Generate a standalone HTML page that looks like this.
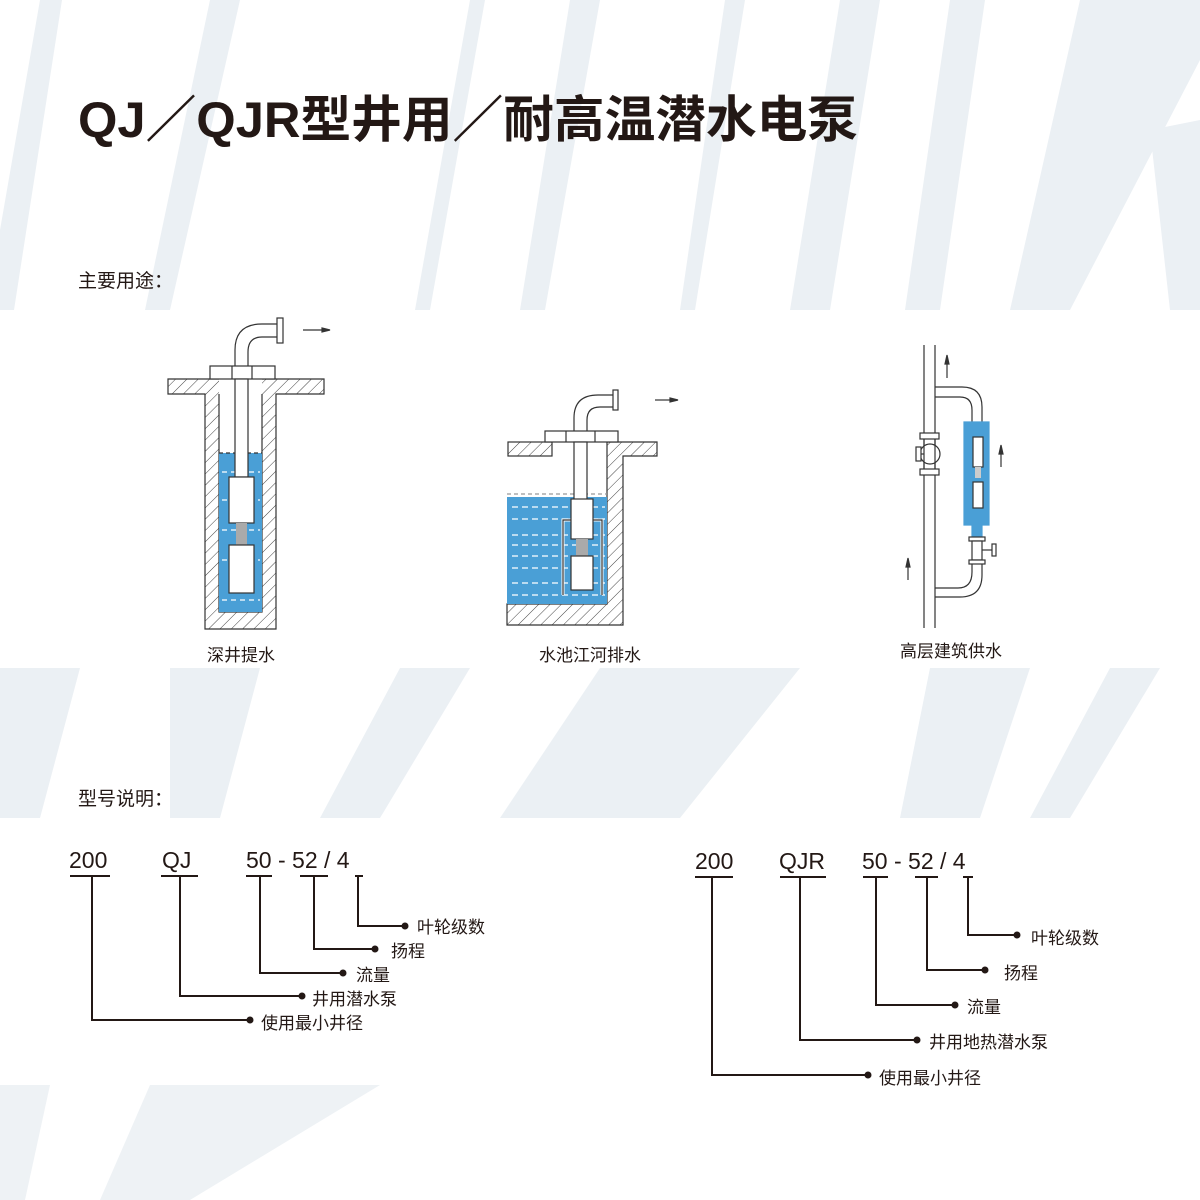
<!DOCTYPE html>
<html><head><meta charset="utf-8"><style>
html,body{margin:0;padding:0;background:#fff}
svg{display:block}
text{font-family:"Liberation Sans","Noto Sans CJK SC",sans-serif;fill:#231815}
</style></head><body>
<svg width="1200" height="1200" viewBox="0 0 1200 1200" xmlns="http://www.w3.org/2000/svg">
<defs>
<pattern id="h" width="8" height="8" patternUnits="userSpaceOnUse" patternTransform="rotate(45)">
<line x1="0" y1="0" x2="0" y2="8" stroke="#444" stroke-width="1"/>
</pattern>
<clipPath id="top"><rect x="0" y="0" width="1200" height="310"/></clipPath>
<clipPath id="mid"><rect x="0" y="668" width="1200" height="150"/></clipPath>
<clipPath id="bot"><rect x="0" y="1085" width="380" height="115"/></clipPath>
</defs>
<!-- background swooshes -->
<g fill="#ebf0f4" clip-path="url(#top)">
<polygon points="40,0 62,0 14,310 0,310 0,230"/>
<polygon points="210,0 240,0 170,310 145,310"/>
<polygon points="470,0 485,0 430,310 415,310"/>
<polygon points="570,0 600,0 545,310 520,310"/>
<polygon points="725,0 745,0 695,310 680,310"/>
<polygon points="840,0 880,0 830,310 790,310"/>
<polygon points="950,0 985,0 940,310 905,310"/>
<polygon points="1080,0 1200,0 1200,60 1070,310 1010,310"/>
<polygon points="1150,130 1200,120 1200,310 1170,310"/>
</g>
<g fill="#ebf0f4" clip-path="url(#mid)">
<polygon points="0,668 80,668 40,818 0,818"/>
<polygon points="170,668 260,668 220,818 170,818"/>
<polygon points="400,668 470,668 380,818 320,818"/>
<polygon points="600,668 800,668 680,818 500,818"/>
<polygon points="930,668 1030,668 980,818 900,818"/>
<polygon points="1110,668 1160,668 1070,818 1030,818"/>
</g>
<g fill="#eef2f5" clip-path="url(#bot)">
<polygon points="0,1085 50,1085 25,1200 0,1200"/>
<polygon points="150,1085 380,1085 190,1200 100,1200"/>
</g>

<!-- title -->
<text x="78" y="137" font-size="50" font-weight="bold" textLength="780" lengthAdjust="spacingAndGlyphs" style="font-family:'Liberation Sans','Noto Sans CJK SC',sans-serif">QJ／QJR型井用／耐高温潜水电泵</text>
<text x="78" y="287" font-size="19" style="font-family:'Noto Sans CJK SC',sans-serif">主要用途：</text>
<text x="78" y="805" font-size="19" style="font-family:'Noto Sans CJK SC',sans-serif">型号说明：</text>

<g stroke="#333" stroke-width="1.2" fill="none">
<!-- Diagram 1 : well -->
<path d="M168,379 H324 V394 H276 V629 H205 V394 H168 Z" fill="url(#h)"/>
<rect x="219" y="379" width="43" height="233" fill="#fff" stroke="none"/>
<path d="M219,394 V612 H262 V394"/>
<rect x="219" y="453" width="43" height="159" fill="#4a9fd6" stroke="none"/>
<line x1="219" y1="453" x2="262" y2="453" stroke-dasharray="4,3" stroke="#333"/>
<g stroke="#fff" stroke-dasharray="5,4" stroke-width="1.2">
<line x1="222" y1="472" x2="260" y2="472"/><line x1="222" y1="500" x2="260" y2="500"/><line x1="222" y1="530" x2="260" y2="530"/><line x1="222" y1="560" x2="260" y2="560"/><line x1="222" y1="600" x2="260" y2="600"/>
</g>
<rect x="210" y="366" width="65" height="13" fill="#fff"/>
<line x1="232" y1="366" x2="232" y2="379"/><line x1="252" y1="366" x2="252" y2="379"/>
<rect x="235" y="379" width="13" height="98" fill="#fff"/>
<path d="M235,366 V350 Q235,324 262,324 H277 M248,366 V352 Q248,337 262,337 H277" fill="none"/>
<rect x="277" y="318" width="6" height="25" fill="#fff"/>
<rect x="229" y="477" width="25" height="46" fill="#fff"/>
<rect x="236" y="523" width="11" height="22" fill="#aaa" stroke="none"/>
<rect x="229" y="545" width="25" height="48" fill="#fff"/>
<line x1="303" y1="330" x2="322" y2="330"/>
<polygon points="322,328 330,330 322,332" fill="#333"/>

<!-- Diagram 2 : pool -->
<rect x="508" y="442" width="44" height="14" fill="url(#h)"/>
<path d="M607,442 H657 V456 H623 V625 H507 V604 H607 Z" fill="url(#h)"/>
<rect x="507" y="497" width="100" height="107" fill="#4a9fd6" stroke="none"/>
<line x1="507" y1="494" x2="607" y2="494" stroke-dasharray="4,3" stroke="#999"/>
<g stroke="#fff" stroke-dasharray="6,4" stroke-width="1.2">
<line x1="512" y1="507" x2="605" y2="507"/><line x1="512" y1="519" x2="605" y2="519"/><line x1="512" y1="535" x2="605" y2="535"/><line x1="512" y1="545" x2="605" y2="545"/><line x1="512" y1="556" x2="605" y2="556"/><line x1="512" y1="568" x2="605" y2="568"/><line x1="512" y1="583" x2="605" y2="583"/><line x1="512" y1="595" x2="605" y2="595"/>
</g>
<rect x="545" y="431" width="73" height="11" fill="#fff"/>
<line x1="566" y1="431" x2="566" y2="442"/><line x1="595" y1="431" x2="595" y2="442"/>
<rect x="574" y="442" width="13" height="58" fill="#fff"/>
<path d="M574,431 V418 Q574,395 598,395 H613 M587,431 V420 Q587,407 600,407 H613" fill="none"/>
<rect x="613" y="390" width="5" height="20" fill="#fff"/>
<path d="M563,595 V520 H602 V595" stroke="#fff" stroke-width="3"/>
<path d="M563,595 V520 H602 V595" stroke="#333"/>
<rect x="571" y="499" width="22" height="40" fill="#fff"/>
<rect x="576" y="539" width="12" height="17" fill="#aaa" stroke="none"/>
<rect x="571" y="556" width="22" height="34" fill="#fff"/>
<line x1="655" y1="400" x2="670" y2="400"/>
<polygon points="670,398 678,400 670,402" fill="#333"/>

<!-- Diagram 3 : building -->
<line x1="924" y1="345" x2="924" y2="628"/><line x1="935" y1="345" x2="935" y2="628"/>
<path d="M935,387 H962 Q982,387 982,407 V430 M935,397 H960 Q972,397 972,410 V430" fill="#fff"/>
<path d="M935,597 H960 Q982,597 982,575 V562 M935,588 H958 Q972,588 972,572 V562" fill="#fff"/>
<path d="M964,422 H989 V525 H982 V540 H972 V525 H964 Z" fill="#4a9fd6" stroke="#4a9fd6"/>
<rect x="973" y="437" width="10" height="30" fill="#fff"/>
<rect x="975" y="467" width="6" height="11" fill="#ccc" stroke="none"/>
<rect x="973" y="482" width="10" height="26" fill="#fff"/>
<rect x="969" y="537" width="16" height="4" fill="#fff"/>
<rect x="972" y="541" width="10" height="19" fill="#fff"/>
<rect x="969" y="560" width="16" height="4" fill="#fff"/>
<line x1="982" y1="550" x2="992" y2="550"/><rect x="992" y="544" width="4" height="12" fill="#fff"/>
<rect x="920" y="433" width="19" height="6" fill="#fff"/>
<rect x="920" y="469" width="19" height="6" fill="#fff"/>
<circle cx="930" cy="454" r="10" fill="#fff"/>
<line x1="924" y1="439" x2="924" y2="469"/><line x1="935" y1="439" x2="935" y2="469"/>
<rect x="916" y="447" width="5" height="14" fill="#fff"/><line x1="921" y1="454" x2="924" y2="454"/>
<line x1="947" y1="378" x2="947" y2="362"/><polygon points="945,364 947,355 949,364" fill="#333"/>
<line x1="1001" y1="467" x2="1001" y2="452"/><polygon points="999,454 1001,445 1003,454" fill="#333"/>
<line x1="908" y1="580" x2="908" y2="565"/><polygon points="906,567 908,558 910,567" fill="#333"/>
</g>
<g font-size="17" style="font-family:'Noto Sans CJK SC',sans-serif">
<text x="241" y="661" text-anchor="middle">深井提水</text>
<text x="590" y="661" text-anchor="middle">水池江河排水</text>
<text x="951" y="657" text-anchor="middle">高层建筑供水</text>
</g>

<!-- Model left -->
<g font-size="23">
<text x="69" y="868">200</text><text x="162" y="868">QJ</text><text x="246" y="868">50 - 52 / 4</text>
</g>
<g stroke="#231815" stroke-width="2" fill="none">
<line x1="70" y1="876" x2="110" y2="876"/><line x1="161" y1="876" x2="198" y2="876"/><line x1="246" y1="876" x2="272" y2="876"/><line x1="300" y1="876" x2="328" y2="876"/><line x1="355" y1="876" x2="363" y2="876"/>
<path d="M92,876 V1020 H250 M180,876 V996 H302 M260,876 V973 H343 M314,876 V949 H375 M358,876 V926 H405"/>
</g>
<g fill="#231815"><circle cx="250" cy="1020" r="3.5"/><circle cx="302" cy="996" r="3.5"/><circle cx="343" cy="973" r="3.5"/><circle cx="375" cy="949" r="3.5"/><circle cx="405" cy="926" r="3.5"/></g>
<g font-size="17" style="font-family:'Noto Sans CJK SC',sans-serif">
<text x="417" y="933">叶轮级数</text><text x="391" y="957">扬程</text><text x="356" y="981">流量</text><text x="312" y="1005">井用潜水泵</text><text x="261" y="1029">使用最小井径</text>
</g>

<!-- Model right -->
<g font-size="23">
<text x="695" y="869">200</text><text x="779" y="869">QJR</text><text x="862" y="869">50 - 52 / 4</text>
</g>
<g stroke="#231815" stroke-width="2" fill="none">
<line x1="695" y1="877" x2="733" y2="877"/><line x1="780" y1="877" x2="826" y2="877"/><line x1="863" y1="877" x2="888" y2="877"/><line x1="915" y1="877" x2="938" y2="877"/><line x1="963" y1="877" x2="973" y2="877"/>
<path d="M712,877 V1075 H868 M800,877 V1040 H917 M876,877 V1005 H955 M927,877 V970 H985 M968,877 V935 H1017"/>
</g>
<g fill="#231815"><circle cx="868" cy="1075" r="3.5"/><circle cx="917" cy="1040" r="3.5"/><circle cx="955" cy="1005" r="3.5"/><circle cx="985" cy="970" r="3.5"/><circle cx="1017" cy="935" r="3.5"/></g>
<g font-size="17" style="font-family:'Noto Sans CJK SC',sans-serif">
<text x="1031" y="944">叶轮级数</text><text x="1004" y="979">扬程</text><text x="967" y="1013">流量</text><text x="929" y="1048">井用地热潜水泵</text><text x="879" y="1084">使用最小井径</text>
</g>
</svg>
</body></html>
